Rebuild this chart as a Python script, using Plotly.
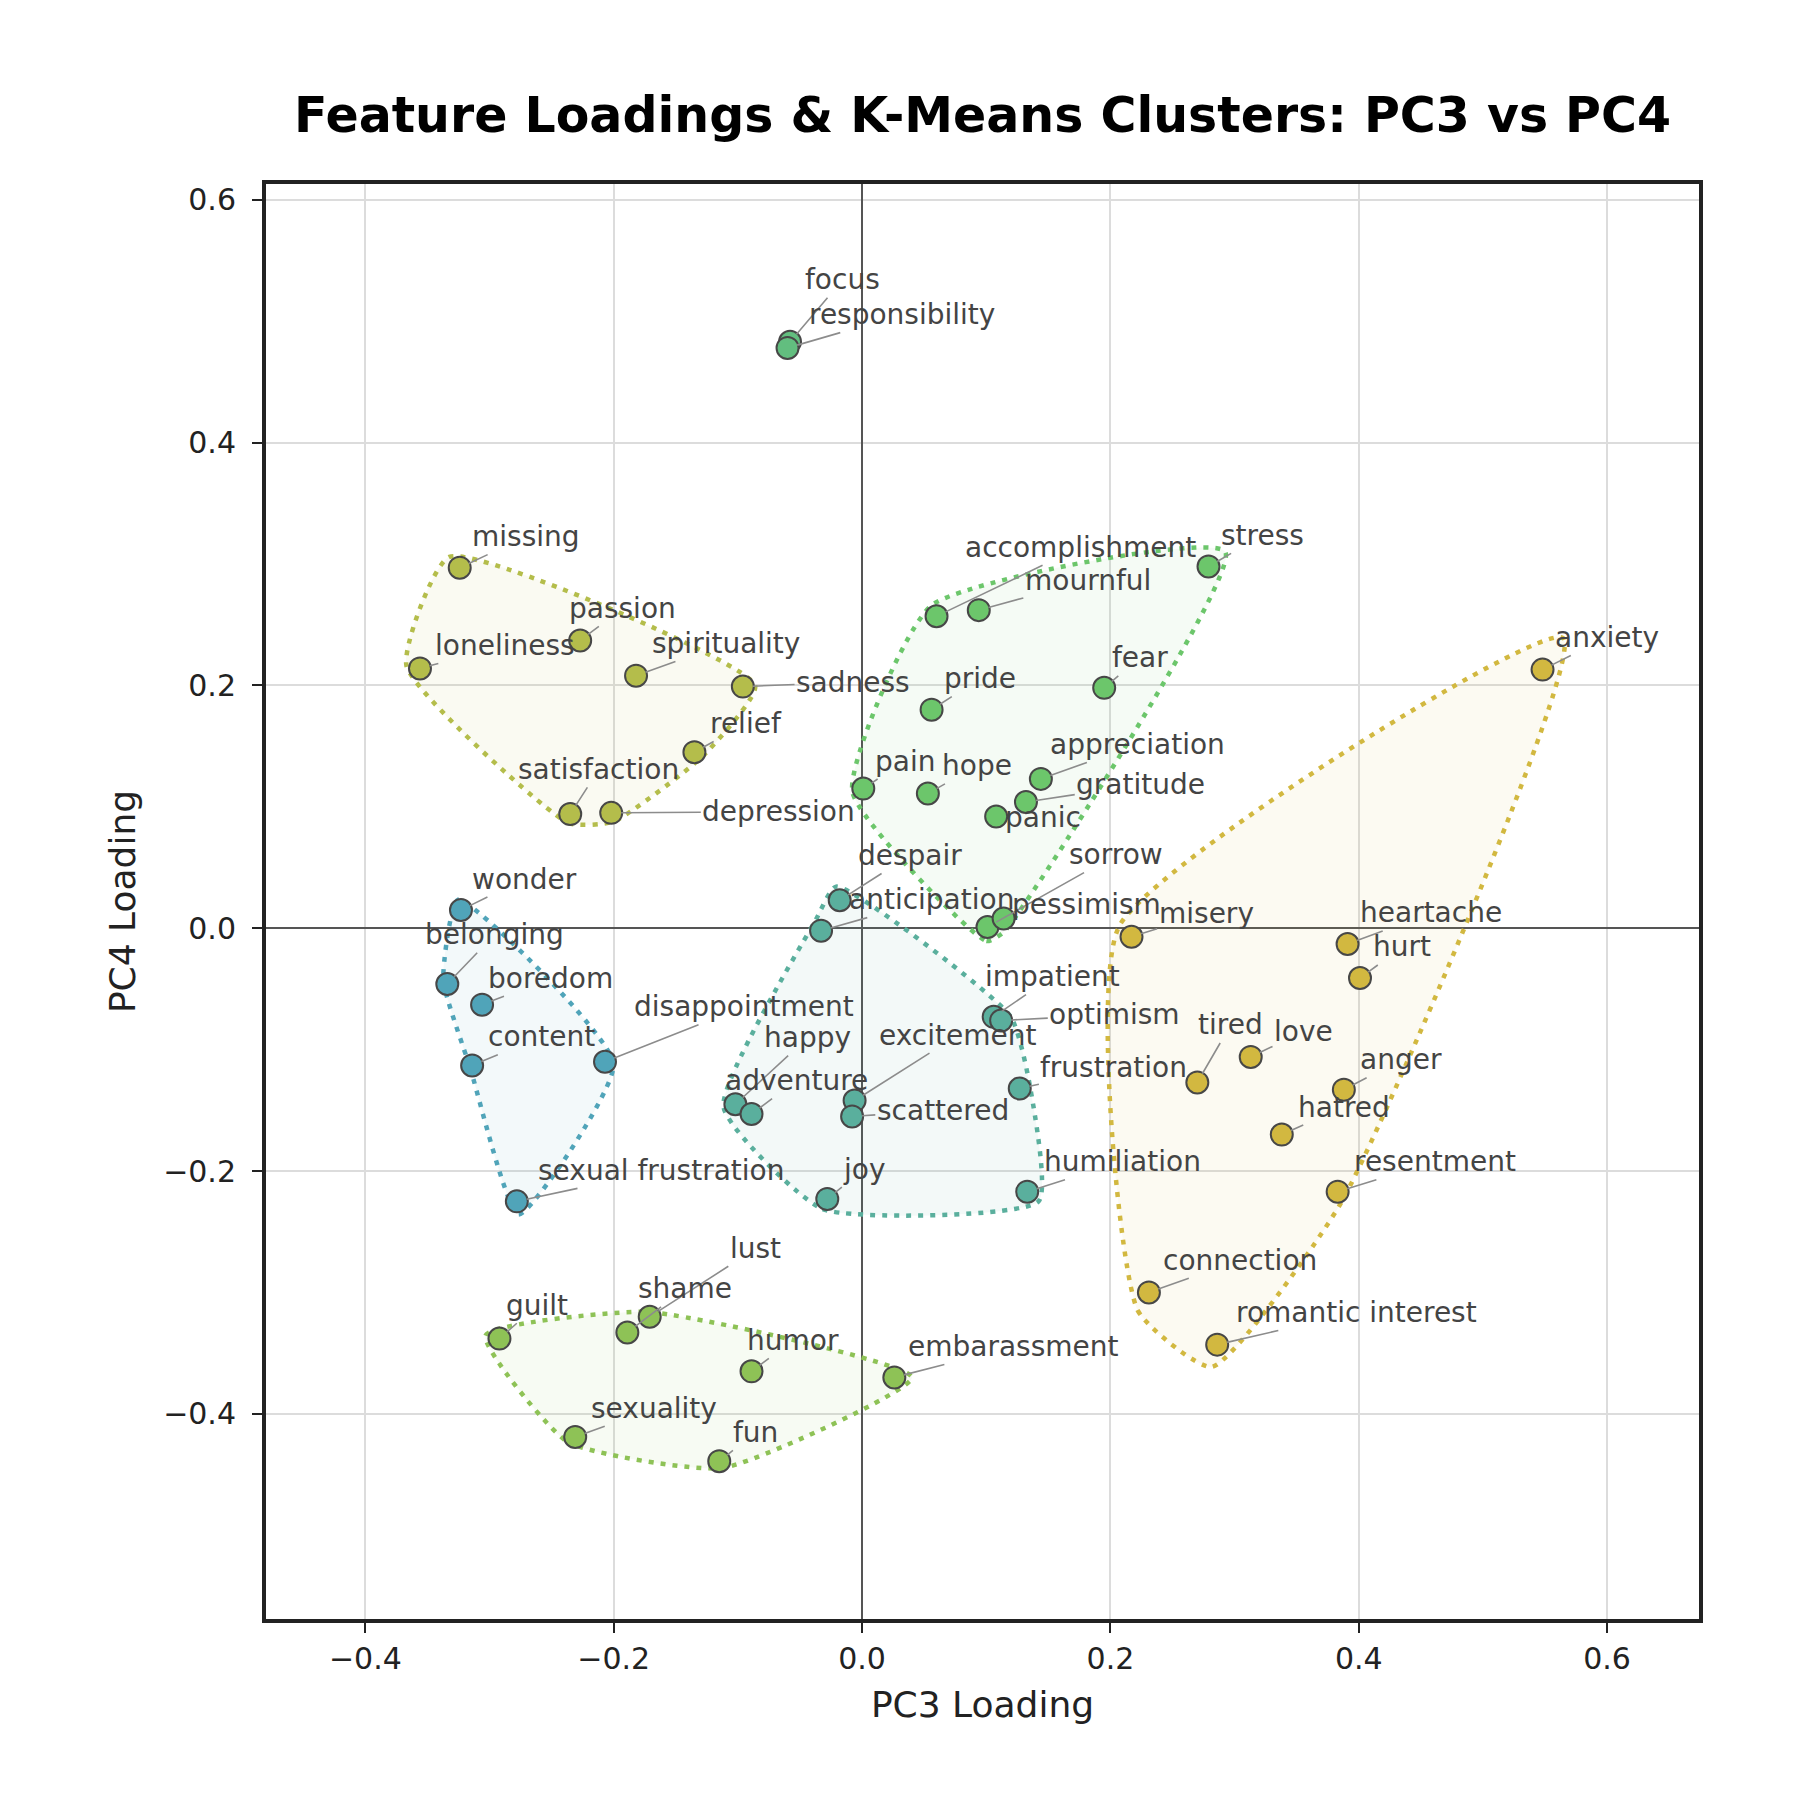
import numpy as np
import plotly.graph_objects as go

# PC3 / PC4 loadings per feature, grouped by k-means cluster
features = ["missing", "passion", "loneliness", "spirituality", "sadness", "relief", "satisfaction", "depression",
            "stress", "accomplishment", "mournful", "fear", "pride", "appreciation", "pain", "hope", "gratitude",
            "panic", "sorrow", "pessimism",
            "focus", "responsibility",
            "despair", "anticipation", "impatient", "optimism", "excitement", "scattered", "happy", "adventure",
            "frustration", "joy", "humiliation",
            "wonder", "belonging", "boredom", "content", "disappointment", "sexual frustration",
            "guilt", "lust", "shame", "humor", "embarassment", "sexuality", "fun",
            "anxiety", "misery", "heartache", "hurt", "tired", "love", "anger", "hatred", "resentment",
            "connection", "romantic interest"]
pc3 = [-0.324, -0.227, -0.356, -0.182, -0.096, -0.135, -0.235, -0.202,
       0.279, 0.060, 0.094, 0.195, 0.056, 0.144, 0.001, 0.053, 0.132, 0.108, 0.101, 0.114,
       -0.058, -0.060,
       -0.018, -0.033, 0.106, 0.112, -0.006, -0.008, -0.102, -0.089, 0.127, -0.028, 0.133,
       -0.323, -0.334, -0.306, -0.314, -0.207, -0.278,
       -0.292, -0.171, -0.189, -0.089, 0.026, -0.231, -0.115,
       0.548, 0.217, 0.391, 0.401, 0.270, 0.313, 0.388, 0.338, 0.383, 0.231, 0.286]
pc4 = [0.297, 0.237, 0.214, 0.208, 0.199, 0.145, 0.094, 0.095,
       0.298, 0.257, 0.262, 0.198, 0.180, 0.123, 0.115, 0.111, 0.104, 0.092, 0.001, 0.008,
       0.483, 0.478,
       0.023, -0.002, -0.073, -0.076, -0.142, -0.155, -0.145, -0.153, -0.132, -0.223, -0.217,
       0.015, -0.046, -0.063, -0.113, -0.110, -0.225,
       -0.338, -0.320, -0.333, -0.365, -0.370, -0.419, -0.439,
       0.213, -0.007, -0.013, -0.041, -0.127, -0.106, -0.133, -0.170, -0.217, -0.300, -0.343]
cluster = [0] * 8 + [1] * 12 + [2] * 2 + [3] * 11 + [4] * 6 + [5] * 7 + [6] * 11

colors = ["#b4bd4b", "#6cc66b", "#62be7f", "#5aaf9d", "#50a4b9", "#8ec256", "#d2b840"]

# label offsets (px, text centre relative to point)
offsets = {
    "missing": (58, -27), "passion": (37, -28), "loneliness": (74, -20), "spirituality": (78, -28),
    "sadness": (96, -4), "relief": (45, -25), "satisfaction": (25, -39), "depression": (146, -1),
    "stress": (47, -27), "accomplishment": (125, -60), "mournful": (95, -26), "fear": (31, -26),
    "pride": (42, -27), "appreciation": (84, -30), "pain": (36, -24), "hope": (43, -24),
    "gratitude": (100, -15), "panic": (41, 1), "sorrow": (112, -63), "pessimism": (72, -12),
    "focus": (46, -54), "responsibility": (100, -29),
    "despair": (61, -39), "anticipation": (96, -27), "impatient": (51, -35), "optimism": (99, -5),
    "excitement": (90, -57), "scattered": (79, -5), "happy": (63, -58), "adventure": (39, -29),
    "frustration": (82, -18), "joy": (32, -26), "humiliation": (83, -26),
    "wonder": (55, -27), "belonging": (41, -43), "boredom": (60, -23), "content": (60, -25),
    "disappointment": (121, -48), "sexual frustration": (126, -27),
    "guilt": (33, -29), "lust": (92, -59), "shame": (50, -38), "humor": (36, -27),
    "embarassment": (104, -27), "sexuality": (69, -25), "fun": (32, -25),
    "anxiety": (56, -28), "misery": (65, -20), "heartache": (73, -27), "hurt": (37, -27),
    "tired": (29, -50), "love": (46, -22), "anger": (50, -26), "hatred": (54, -24),
    "resentment": (85, -26), "connection": (79, -28), "romantic interest": (121, -28),
}
S = 1.148


def convex_hull(pts):
    pts = sorted(map(tuple, pts))
    def cross(o, a, b):
        return (a[0] - o[0]) * (b[1] - o[1]) - (a[1] - o[1]) * (b[0] - o[0])
    lower, upper = [], []
    for p in pts:
        while len(lower) >= 2 and cross(lower[-2], lower[-1], p) <= 0:
            lower.pop()
        lower.append(p)
    for p in reversed(pts):
        while len(upper) >= 2 and cross(upper[-2], upper[-1], p) <= 0:
            upper.pop()
        upper.append(p)
    return np.array(lower[:-1] + upper[:-1])


x = np.array(pc3)
y = np.array(pc4)
c = np.array(cluster)

fig = go.Figure()

for k, col in enumerate(colors):
    m = c == k
    if m.sum() < 3:
        continue
    pts = np.column_stack([x[m], y[m]])
    hull = convex_hull(pts)
    cen = pts.mean(axis=0)
    hull = cen + (hull - cen) * 1.08
    hull = np.vstack([hull, hull[:1]])
    r, g, b = int(col[1:3], 16), int(col[3:5], 16), int(col[5:7], 16)
    fig.add_trace(go.Scatter(x=hull[:, 0], y=hull[:, 1], mode="lines", fill="toself",
                             fillcolor=f"rgba({r},{g},{b},0.07)",
                             line=dict(color=col, width=4.5, dash="5px,7px", shape="spline", smoothing=0.5),
                             hoverinfo="skip", showlegend=False))

for k, col in enumerate(colors):
    m = c == k
    fig.add_trace(go.Scatter(x=x[m], y=y[m], mode="markers",
                             marker=dict(size=22, color=col, line=dict(color="#474747", width=2)),
                             text=[f for f, mm in zip(features, m) if mm], showlegend=False))

for f, xi, yi in zip(features, pc3, pc4):
    dx, dy = offsets[f]
    fig.add_annotation(x=xi, y=yi, text=f, showarrow=True, arrowhead=0, arrowwidth=1.6,
                       arrowcolor="#8c8c8c", ax=dx * S, ay=dy * S, standoff=10, startstandoff=0,
                       font=dict(family="DejaVu Sans", size=28, color="#444444"))

axis_style = dict(showgrid=True, gridcolor="#dcdcdc", gridwidth=1.5,
                  zeroline=True, zerolinecolor="#555555", zerolinewidth=1.5,
                  showline=True, linecolor="#222222", linewidth=4, mirror=True,
                  ticks="outside", ticklen=10, tickwidth=2, tickcolor="#222222",
                  tickfont=dict(family="DejaVu Sans", size=30, color="#222222"),
                  tickformat=".1f", dtick=0.2, tick0=0, automargin=False)

fig.update_layout(
    width=1800, height=1800,
    plot_bgcolor="white", paper_bgcolor="white",
    margin=dict(l=258, r=109, t=176, b=189),
    title=dict(text="<b>Feature Loadings & K-Means Clusters: PC3 vs PC4</b>",
               font=dict(family="DejaVu Sans", size=49, color="black"),
               xref="paper", x=0.5, xanchor="center", y=1 - 107 / 1800, yanchor="middle"),
    xaxis=dict(range=[-0.480, 0.674], **axis_style,
               title=dict(text="PC3 Loading", standoff=18,
                          font=dict(family="DejaVu Sans", size=36, color="#222222"))),
    yaxis=dict(range=[-0.569, 0.613], **axis_style, ticklabelstandoff=10,
               title=dict(text="PC4 Loading", standoff=18,
                          font=dict(family="DejaVu Sans", size=36, color="#222222"))),
    showlegend=False,
)

fig.write_html("out.html")
